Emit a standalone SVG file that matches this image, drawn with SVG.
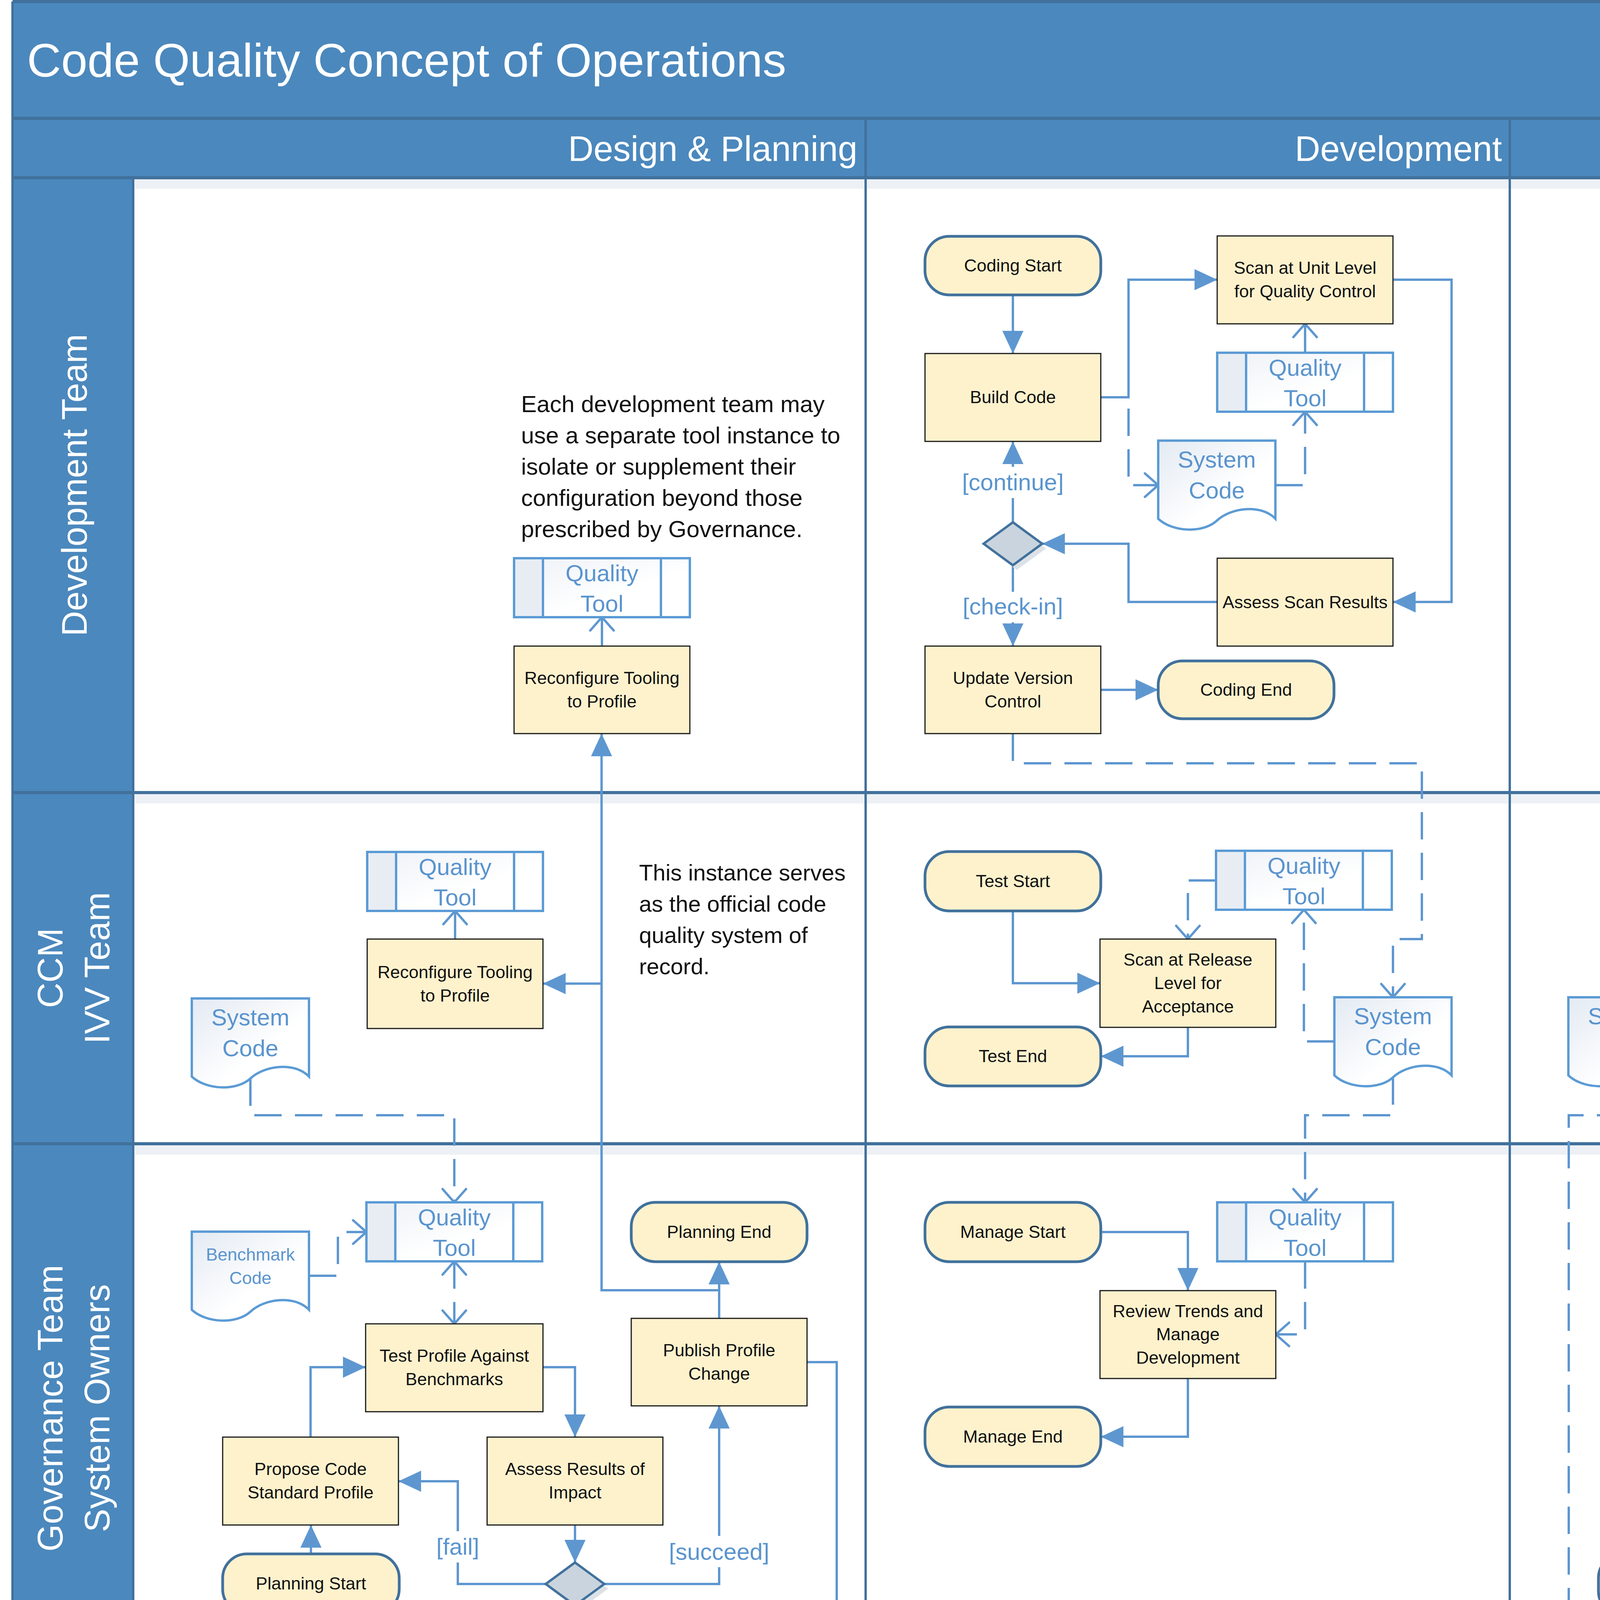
<svg xmlns="http://www.w3.org/2000/svg" width="6375" height="4856" viewBox="0 0 6375 4856">
<defs>
<style>
text{font-family:"Liberation Sans",Arial,sans-serif}
.band{fill:#4B88BD}
.hl{stroke:#41719C;stroke-width:8;fill:none}
.vl{stroke:#41719C;stroke-width:6;fill:none}
.sh{fill:#EDF1F6}
.ttl{fill:#fff;font-size:121px}
.hdr{fill:#fff;font-size:90px;text-anchor:end}
.lane{fill:#fff;font-size:90px;text-anchor:middle}
.proc{fill:#FEF2CD;stroke:#1A1A1A;stroke-width:3}
.term{fill:#FEF2CD;stroke:#41719C;stroke-width:7}
.dia{fill:#C9D4DE;stroke:#41719C;stroke-width:6}
.diash{fill:#DDE2E8}
.t{font-size:45px;fill:#111;text-anchor:middle}
.bt{font-size:60px;fill:#5A94CE;text-anchor:middle}
.st{font-size:45px;fill:#5A94CE;text-anchor:middle}
.note{font-size:58px;fill:#111}
.flow{fill:none;stroke:#5E97D0;stroke-width:6;marker-end:url(#af)}
.data{fill:none;stroke:#5E97D0;stroke-width:6;stroke-dasharray:70 34;marker-end:url(#ao)}
.assoc{fill:none;stroke:#5E97D0;stroke-width:6;marker-end:url(#ao)}
.both{marker-start:url(#ao)}
.lbl{fill:#fff}
</style>
<linearGradient id="gq" x1="0" y1="0" x2="1" y2="1">
<stop offset="0" stop-color="#EDF1F7"/><stop offset="0.6" stop-color="#FFFFFF"/>
</linearGradient>
<linearGradient id="gd" x1="0" y1="0" x2="1" y2="1">
<stop offset="0" stop-color="#E3EAF3"/><stop offset="0.6" stop-color="#FFFFFF"/>
</linearGradient>
<marker id="af" markerUnits="userSpaceOnUse" markerWidth="60" markerHeight="60" viewBox="0 0 60 60" refX="58" refY="30" orient="auto">
<path d="M0,3 L58,30 L0,57 Z" fill="#5E97D0"/>
</marker>
<marker id="ao" markerUnits="userSpaceOnUse" markerWidth="50" markerHeight="80" viewBox="-5 -40 50 80" refX="36" refY="0" orient="auto-start-reverse">
<path d="M2,-30 L36,0 L2,30" fill="none" stroke="#5E97D0" stroke-width="6" stroke-linecap="round" stroke-linejoin="round"/>
</marker>
<g id="qtShape">
<rect x="0" y="0" width="450" height="151" fill="url(#gq)"/>
<rect x="0" y="0" width="74" height="151" fill="#E8EDF4"/>
<rect x="0" y="0" width="450" height="151" fill="none" stroke="#5B9BD5" stroke-width="6"/>
<path d="M74,0 V151 M376,0 V151" stroke="#5B9BD5" stroke-width="6"/>
</g>
<path id="docShape" d="M0,0 H300 V200 C264,162 186,171 150,205 C114,238 36,234 0,200 Z" fill="url(#gd)" stroke="#5B9BD5" stroke-width="6"/>
</defs>

<rect x="0" y="0" width="6375" height="4856" fill="#fff"/>

<g id="frame">
<rect class="band" x="32" y="4" width="6310" height="451"/>
<rect class="band" x="32" y="455" width="309" height="4353"/>
<rect class="sh" x="345" y="459" width="5993" height="24"/>
<rect class="sh" x="345" y="2033" width="5993" height="24"/>
<rect class="sh" x="345" y="2932" width="5993" height="24"/>
<rect class="sh" x="345" y="4281" width="5993" height="24"/>
<rect class="sh" x="32" y="4812" width="6310" height="20"/>
<path class="hl" d="M32,4 H6342 M32,303 H6342 M32,455 H6342 M32,2029 H6342 M32,2928 H6342 M32,4277 H6342 M32,4808 H6342"/>
<path class="vl" d="M32,4 V4808 M6342,4 V4808 M341,455 V4808 M2216,303 V4808 M3865,303 V4808"/>
<text class="ttl" x="69" y="196">Code Quality Concept of Operations</text>
<text class="hdr" x="2195" y="412">Design &amp; Planning</text>
<text class="hdr" x="3845" y="412">Development</text>
<text class="hdr" x="6320" y="412">Operations</text>
<text class="lane" transform="translate(189,1242) rotate(-90)" x="0" y="33">Development Team</text>
<text class="lane" transform="translate(0,2478) rotate(-90)" x="0" y="160">CCM</text>
<text class="lane" transform="translate(0,2478) rotate(-90)" x="0" y="280">IVV Team</text>
<text class="lane" transform="translate(0,3605) rotate(-90)" x="0" y="160">Governance Team</text>
<text class="lane" transform="translate(0,3605) rotate(-90)" x="0" y="280">System Owners</text>
<text class="lane" transform="translate(0,4542) rotate(-90)" x="0" y="160">Operations</text>
<text class="lane" transform="translate(0,4542) rotate(-90)" x="0" y="280">Team</text>
</g>

<g id="connectors">
<path class="flow" d="M2593,755 V905"/>
<path class="flow" d="M2818,1017 H2889 V716 H3116"/>
<path class="data" d="M2889,1046 V1242 H2965"/>
<path class="data" d="M3265,1242 H3341 V1054"/>
<path class="assoc" d="M3341,903 V829"/>
<path class="flow" d="M3566,716 H3716 V1541 H3566"/>
<path class="flow" d="M3116,1541 H2889 V1392 H2668"/>
<path class="flow" d="M2593,1337 V1130"/>
<path class="flow" d="M2593,1447 V1654"/>
<path class="flow" d="M2818,1766 H2965"/>
<path class="data" d="M2593,1878 V1954 H3640 V2404 H3566 V2553"/>
<path class="flow" d="M4915,4433 V1766 H5066"/>
<path class="flow" d="M5291,1878 V2179"/>
<path class="flow" d="M5291,2410 V3079"/>
<path class="flow" d="M5291,3309 V3458"/>
<path class="flow" d="M5291,3684 V3833"/>
<path class="data" d="M4165,2758 V2855 H4016 V4544 H4092"/>
<path class="flow" d="M4320,4135 V4429"/>
<path class="flow" d="M4547,4544 H4692"/>
<path class="data" d="M5330,4545 H5140"/>
<path class="data" d="M5891,4545 H5780"/>
<path class="assoc" d="M1541,1654 V1580"/>
<path class="flow" d="M1841,3375 V3230"/>
<path class="flow" d="M1841,3303 H1540 V1878"/>
<path class="flow" d="M1540,2518 H1390"/>
<path class="flow" d="M2066,3487 H2142 V4544 H2066"/>
<path class="data" d="M1616,4544 H1466"/>
<path class="assoc" d="M1165,2404 V2332"/>
<path class="data" d="M641,2761 V2855 H1163 V3078"/>
<path class="data" d="M791,3266 H865 V3154 H938"/>
<path class="data both" d="M1163,3229 V3389"/>
<path class="flow" d="M796,3978 V3904"/>
<path class="flow" d="M795,3679 V3500 H936"/>
<path class="flow" d="M1390,3500 H1472 V3679"/>
<path class="flow" d="M1472,3904 V4000"/>
<path class="flow" d="M1397,4055 H1172 V3792 H1020"/>
<path class="flow" d="M1547,4055 H1841 V3599"/>
<path class="flow" d="M2593,2332 V2517 H2816"/>
<path class="data" d="M3113,2254 H3041 V2404"/>
<path class="flow" d="M3041,2630 V2704 H2818"/>
<path class="data" d="M3416,2666 H3338 V2329"/>
<path class="data" d="M3566,2758 V2855 H3341 V3078"/>
<path class="flow" d="M2818,3154 H3041 V3304"/>
<path class="data" d="M3341,3229 V3416 H3266"/>
<path class="flow" d="M3041,3529 V3678 H2818"/>
<rect class="lbl" x="2450" y="1195" width="286" height="80"/>
<text class="bt" x="2593" y="1255">[continue]</text>
<rect class="lbl" x="2455" y="1515" width="276" height="78"/>
<text class="bt" x="2593" y="1573">[check-in]</text>
<rect class="lbl" x="1112" y="3920" width="120" height="80"/>
<text class="bt" x="1172" y="3980">[fail]</text>
<rect class="lbl" x="1708" y="3932" width="266" height="80"/>
<text class="bt" x="1841" y="3993">[succeed]</text>
</g>

<g id="note1"><text class="note" style="font-size:60px"><tspan x="1334" y="1055">Each development team may</tspan><tspan x="1334" y="1135">use a separate tool instance to</tspan><tspan x="1334" y="1215">isolate or supplement their</tspan><tspan x="1334" y="1295">configuration beyond those</tspan><tspan x="1334" y="1375">prescribed by Governance.</tspan></text></g>
<g id="dp_qt_dev"><use href="#qtShape" x="1316" y="1429"/><text class="bt" x="1541" y="1488">Quality</text><text class="bt" x="1541" y="1566">Tool</text></g>
<g id="dp_reconf_dev"><rect class="proc" x="1316" y="1654" width="450" height="224"/><text class="t" x="1541" y="1751">Reconfigure Tooling</text><text class="t" x="1541" y="1811">to Profile</text></g>

<g id="coding_start"><rect class="term" x="2368" y="605" width="450" height="150" rx="62"/><text class="t" x="2593" y="695">Coding Start</text></g>
<g id="build_code"><rect class="proc" x="2368" y="905" width="450" height="225"/><text class="t" x="2593" y="1032">Build Code</text></g>
<g id="scan_unit"><rect class="proc" x="3116" y="604" width="450" height="225"/><text class="t" x="3341" y="701">Scan at Unit Level</text><text class="t" x="3341" y="761">for Quality Control</text></g>
<g id="dev_qt"><use href="#qtShape" x="3116" y="903"/><text class="bt" x="3341" y="962">Quality</text><text class="bt" x="3341" y="1040">Tool</text></g>
<g id="sys_code_dev"><use href="#docShape" x="2965" y="1128"/><text class="bt" x="3115" y="1197">System</text><text class="bt" x="3115" y="1276">Code</text></g>
<g id="decision1"><polygon class="diash" points="2603,1349 2678,1404 2603,1459 2528,1404"/><polygon class="dia" points="2593,1337 2668,1392 2593,1447 2518,1392"/></g>
<g id="assess_scan"><rect class="proc" x="3116" y="1429" width="450" height="225"/><text class="t" x="3341" y="1557">Assess Scan Results</text></g>
<g id="update_vc"><rect class="proc" x="2368" y="1654" width="450" height="224"/><text class="t" x="2593" y="1751">Update Version</text><text class="t" x="2593" y="1811">Control</text></g>
<g id="coding_end"><rect class="term" x="2965" y="1692" width="450" height="148" rx="62"/><text class="t" x="3190" y="1781">Coding End</text></g>
<g id="collect1"><rect class="proc" x="5066" y="1654" width="450" height="224"/><text class="t" x="5291" y="1721">Collect Lessons</text><text class="t" x="5291" y="1781">Learned from Dev &amp;</text><text class="t" x="5291" y="1841">Support</text></g>

<g id="ccm_qt"><use href="#qtShape" x="940" y="2181"/><text class="bt" x="1165" y="2240">Quality</text><text class="bt" x="1165" y="2318">Tool</text></g>
<g id="ccm_reconf"><rect class="proc" x="940" y="2404" width="450" height="229"/><text class="t" x="1165" y="2504">Reconfigure Tooling</text><text class="t" x="1165" y="2564">to Profile</text></g>
<g id="ccm_sys_code"><use href="#docShape" x="491" y="2556"/><text class="bt" x="641" y="2625">System</text><text class="bt" x="641" y="2704">Code</text></g>
<g id="note2"><text class="note"><tspan x="1636" y="2254">This instance serves</tspan><tspan x="1636" y="2334">as the official code</tspan><tspan x="1636" y="2414">quality system of</tspan><tspan x="1636" y="2494">record.</tspan></text></g>
<g id="test_start"><rect class="term" x="2368" y="2180" width="450" height="152" rx="62"/><text class="t" x="2593" y="2271">Test Start</text></g>
<g id="test_qt"><use href="#qtShape" x="3113" y="2178"/><text class="bt" x="3338" y="2237">Quality</text><text class="bt" x="3338" y="2315">Tool</text></g>
<g id="scan_release"><rect class="proc" x="2816" y="2404" width="450" height="226"/><text class="t" x="3041" y="2472">Scan at Release</text><text class="t" x="3041" y="2532">Level for</text><text class="t" x="3041" y="2592">Acceptance</text></g>
<g id="test_end"><rect class="term" x="2368" y="2629" width="450" height="151" rx="62"/><text class="t" x="2593" y="2719">Test End</text></g>
<g id="ccm_dev_sys"><use href="#docShape" x="3416" y="2553"/><text class="bt" x="3566" y="2622">System</text><text class="bt" x="3566" y="2701">Code</text></g>
<g id="ops_sys_ccm"><use href="#docShape" x="4015" y="2553"/><text class="bt" x="4165" y="2622">System</text><text class="bt" x="4165" y="2701">Code</text></g>
<g id="collect2"><rect class="proc" x="5066" y="2179" width="450" height="231"/><text class="t" x="5291" y="2250">Collect Lessons</text><text class="t" x="5291" y="2310">Learned from Dev &amp;</text><text class="t" x="5291" y="2370">Support</text></g>

<g id="gov_qt"><use href="#qtShape" x="938" y="3078"/><text class="bt" x="1163" y="3137">Quality</text><text class="bt" x="1163" y="3215">Tool</text></g>
<g id="bench_code"><use href="#docShape" x="491" y="3153"/><text class="st" x="641" y="3227">Benchmark</text><text class="st" x="641" y="3287">Code</text></g>
<g id="planning_end"><rect class="term" x="1616" y="3078" width="450" height="152" rx="62"/><text class="t" x="1841" y="3169">Planning End</text></g>
<g id="test_profile"><rect class="proc" x="936" y="3389" width="454" height="225"/><text class="t" x="1163" y="3486">Test Profile Against</text><text class="t" x="1163" y="3546">Benchmarks</text></g>
<g id="publish"><rect class="proc" x="1616" y="3375" width="450" height="224"/><text class="t" x="1841" y="3472">Publish Profile</text><text class="t" x="1841" y="3532">Change</text></g>
<g id="propose"><rect class="proc" x="570" y="3679" width="450" height="225"/><text class="t" x="795" y="3776">Propose Code</text><text class="t" x="795" y="3836">Standard Profile</text></g>
<g id="assess_results"><rect class="proc" x="1247" y="3679" width="450" height="225"/><text class="t" x="1472" y="3776">Assess Results of</text><text class="t" x="1472" y="3836">Impact</text></g>
<g id="planning_start"><rect class="term" x="570" y="3978" width="452" height="152" rx="62"/><text class="t" x="796" y="4069">Planning Start</text></g>
<g id="decision2"><polygon class="diash" points="1482,4012 1557,4067 1482,4122 1407,4067"/><polygon class="dia" points="1472,4000 1547,4055 1472,4110 1397,4055"/></g>
<g id="manage_start_dev"><rect class="term" x="2368" y="3078" width="450" height="152" rx="62"/><text class="t" x="2593" y="3169">Manage Start</text></g>
<g id="gov_dev_qt"><use href="#qtShape" x="3116" y="3078"/><text class="bt" x="3341" y="3137">Quality</text><text class="bt" x="3341" y="3215">Tool</text></g>
<g id="review"><rect class="proc" x="2816" y="3304" width="450" height="225"/><text class="t" x="3041" y="3372">Review Trends and</text><text class="t" x="3041" y="3431">Manage</text><text class="t" x="3041" y="3491">Development</text></g>
<g id="manage_end_dev"><rect class="term" x="2368" y="3602" width="450" height="152" rx="62"/><text class="t" x="2593" y="3693">Manage End</text></g>
<g id="note3"><text class="note" xml:space="preserve"><tspan x="4108" y="3153">This instance contains</tspan><tspan x="4108" y="3233">access to the official code</tspan><tspan x="4108" y="3313">base with candidate code</tspan><tspan x="4108" y="3393">quality profiles under</tspan><tspan x="4108" y="3473">consideration.  This may</tspan><tspan x="4108" y="3553">be the same instance as</tspan><tspan x="4108" y="3633">the CCM with some tools.</tspan></text></g>
<g id="assess_sys"><rect class="proc" x="5066" y="3079" width="450" height="230"/><text class="t" x="5291" y="3179">Assess System</text><text class="t" x="5291" y="3239">Metrics and Efficacy</text></g>
<g id="report"><rect class="proc" x="5066" y="3458" width="450" height="226"/><text class="t" x="5291" y="3526">Report on Findings</text><text class="t" x="5291" y="3586">for Profile Change</text><text class="t" x="5291" y="3646">Proposals</text></g>
<g id="manage_end_ops"><rect class="term" x="5066" y="3833" width="450" height="157" rx="62"/><text class="t" x="5291" y="3927">Manage End</text></g>
<g id="manage_start_ops"><rect class="term" x="4092" y="3978" width="455" height="157" rx="62"/><text class="t" x="4320" y="4072">Manage Start</text></g>

<g id="note4"><text class="note" style="font-size:60px"><tspan x="433" y="4430">This instance of the</tspan><tspan x="433" y="4510">tool captures</tspan><tspan x="433" y="4590">production code</tspan><tspan x="433" y="4670">quality characteristics.</tspan></text></g>
<g id="ops_qt"><use href="#qtShape" x="1016" y="4469"/><text class="bt" x="1241" y="4528">Quality</text><text class="bt" x="1241" y="4606">Tool</text></g>
<g id="ops_reconf"><rect class="proc" x="1616" y="4429" width="450" height="230"/><text class="t" x="1841" y="4529">Reconfigure Tooling</text><text class="t" x="1841" y="4589">to Profile</text></g>
<g id="deploy"><rect class="proc" x="4092" y="4429" width="455" height="230"/><text class="t" x="4320" y="4529">Deploy System to</text><text class="t" x="4320" y="4589">Production</text></g>
<g id="scan_perf"><rect class="proc" x="4692" y="4433" width="448" height="226"/><text class="t" x="4916" y="4531">Scan System for</text><text class="t" x="4916" y="4591">Performance</text></g>
<g id="ops_qt2"><use href="#qtShape" x="5330" y="4470"/><text class="bt" x="5555" y="4529">Quality</text><text class="bt" x="5555" y="4607">Tool</text></g>
<g id="ops_sys"><use href="#docShape" x="5891" y="4426"/><text class="bt" x="6041" y="4528">System</text></g>
</svg>
